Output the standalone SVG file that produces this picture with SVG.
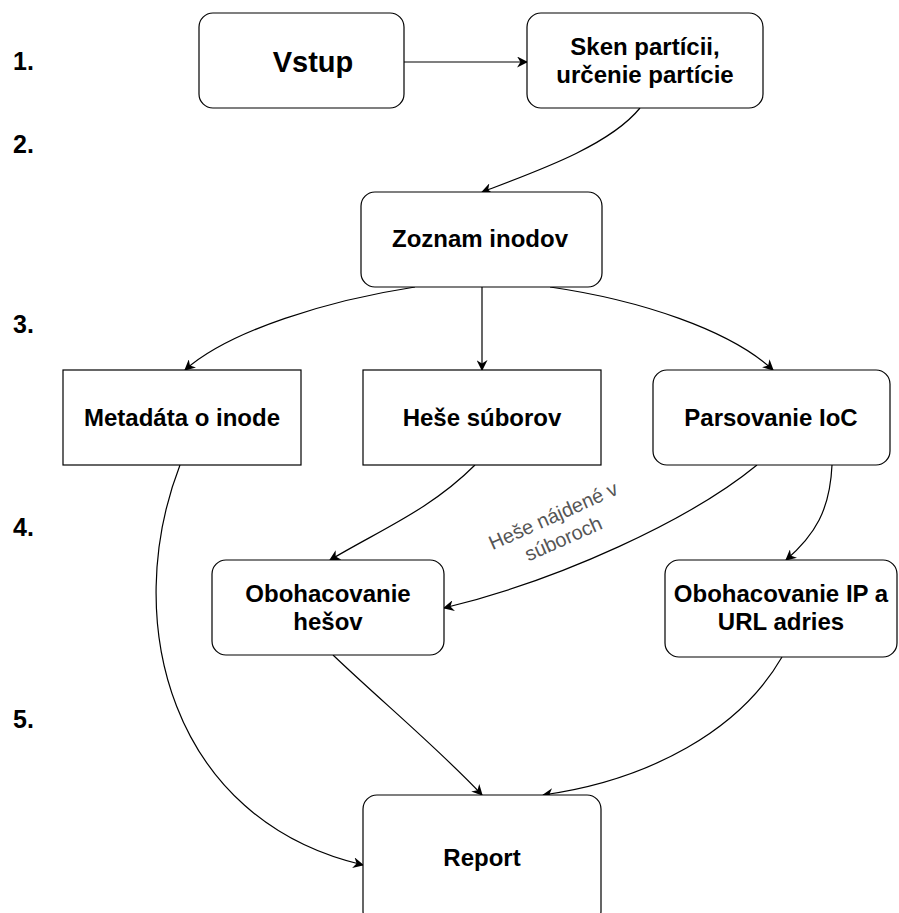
<svg xmlns="http://www.w3.org/2000/svg" width="899" height="913" viewBox="0 0 899 913">
<style>
.box{fill:#fff;stroke:#000;stroke-width:1.2}
.t{font-family:"Liberation Sans",Arial,sans-serif;font-weight:bold;font-size:24px;fill:#000;text-anchor:middle}
.num{font-family:"Liberation Sans",Arial,sans-serif;font-weight:bold;font-size:25px;fill:#000}
.e{fill:none;stroke:#000;stroke-width:1.2}
.lbl{font-family:"Liberation Sans",Arial,sans-serif;font-size:20px;fill:#555;text-anchor:middle}
</style>
<defs>
<marker id="a" viewBox="0 0 10 10" refX="9" refY="5" markerWidth="11" markerHeight="11" markerUnits="userSpaceOnUse" orient="auto">
<path d="M0,0 L10,5 L0,10 L3,5 z" fill="#000"/>
</marker>
</defs>
<rect width="899" height="913" fill="#fff"/>
<g id="steps">
<text class="num" x="13" y="70">1.</text>
<text class="num" x="13" y="153">2.</text>
<text class="num" x="13" y="333">3.</text>
<text class="num" x="13" y="536">4.</text>
<text class="num" x="13" y="728">5.</text>
</g>
<g id="edges">
<path class="e" d="M404,62 L527,62" marker-end="url(#a)"/>
<path class="e" d="M640,108 C610,145 540,170 482,192" marker-end="url(#a)"/>
<path class="e" d="M482,287 L482,370" marker-end="url(#a)"/>
<path class="e" d="M415,287 C330,300 230,330 185,370" marker-end="url(#a)"/>
<path class="e" d="M550,287 C640,300 730,330 773,370" marker-end="url(#a)"/>
<path class="e" d="M475,465 C430,510 380,530 330,560" marker-end="url(#a)"/>
<path class="e" d="M757,465 C690,520 560,580 444,608" marker-end="url(#a)"/>
<path class="e" d="M832,465 C830,510 815,535 786,560" marker-end="url(#a)"/>
<path class="e" d="M180,465 C120,620 170,820 363,865" marker-end="url(#a)"/>
<path class="e" d="M333,655 C380,700 440,750 482,795" marker-end="url(#a)"/>
<path class="e" d="M782,657 C740,730 650,780 543,795" marker-end="url(#a)"/>
<text class="lbl" transform="translate(556,522) rotate(-24)"><tspan x="0" y="0">Heše nájdené v</tspan><tspan x="0" y="25">súboroch</tspan></text>
</g>
<g id="vstup"><rect class="box" x="199" y="13" width="205" height="95" rx="14"/><text class="t" x="313" y="72" style="font-size:29px">Vstup</text></g>
<g id="sken"><rect class="box" x="527" y="13" width="236" height="95" rx="14"/><text class="t" x="645" y="55">Sken partícii,</text><text class="t" x="645" y="83">určenie partície</text></g>
<g id="zoznam"><rect class="box" x="361" y="192" width="241" height="95" rx="14"/><text class="t" x="480" y="247">Zoznam inodov</text></g>
<g id="metadata"><rect class="box" x="63" y="370" width="238" height="95"/><text class="t" x="182" y="426">Metadáta o inode</text></g>
<g id="hese"><rect class="box" x="363" y="370" width="238" height="95"/><text class="t" x="482" y="426">Heše súborov</text></g>
<g id="parsovanie"><rect class="box" x="653" y="370" width="237" height="95" rx="14"/><text class="t" x="771" y="426">Parsovanie IoC</text></g>
<g id="obohes"><rect class="box" x="212" y="560" width="232" height="95" rx="14"/><text class="t" x="328" y="602">Obohacovanie</text><text class="t" x="328" y="630">hešov</text></g>
<g id="obohip"><rect class="box" x="665" y="560" width="232" height="97" rx="14"/><text class="t" x="781" y="602">Obohacovanie IP a</text><text class="t" x="781" y="630">URL adries</text></g>
<g id="report"><rect class="box" x="363" y="795" width="238" height="130" rx="14"/><text class="t" x="482" y="866">Report</text></g>
</svg>
